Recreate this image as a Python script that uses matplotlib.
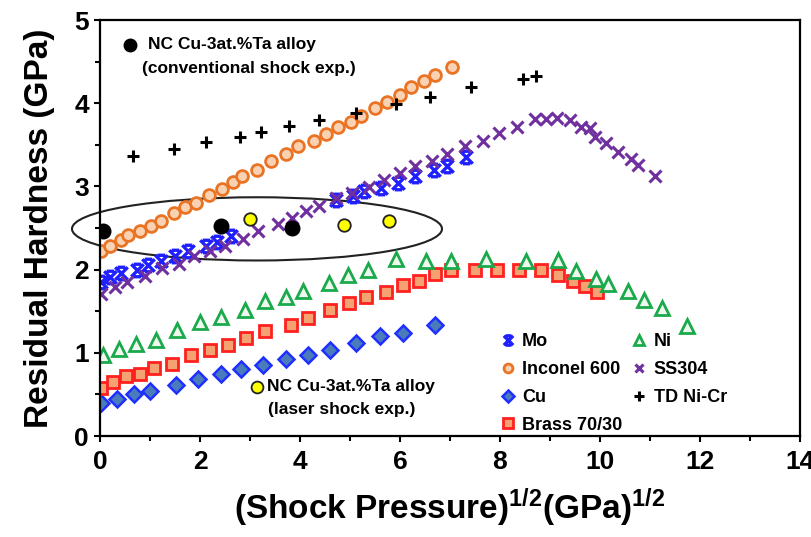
import numpy as np
import matplotlib
matplotlib.use('Agg')
import matplotlib.pyplot as plt
from matplotlib.path import Path
from matplotlib.patches import Ellipse

# ------------------------------------------------------------------------------
# data : x = (shock pressure)^1/2, y = residual hardness (GPa)

mo_x = [0.03, 0.2, 0.42, 0.74, 0.97, 1.22, 1.5, 1.77, 2.12, 2.35, 2.62,
        4.72, 5.07, 5.29, 5.62, 5.97, 6.3, 6.69, 6.95, 7.32]
mo_y = [1.85, 1.91, 1.96, 2.0, 2.05, 2.1, 2.16, 2.23, 2.28, 2.33, 2.4,
        2.84, 2.88, 2.94, 2.98, 3.04, 3.12, 3.2, 3.25, 3.35]

inc_x = [0.03, 0.2, 0.43, 0.57, 0.8, 1.02, 1.23, 1.49, 1.7, 1.92, 2.18, 2.45,
         2.67, 2.85, 3.15, 3.42, 3.73, 3.96, 4.29, 4.53, 4.77, 5.03, 5.22,
         5.5, 5.75, 6.0, 6.23, 6.49, 6.71, 7.05]
inc_y = [2.22, 2.28, 2.36, 2.42, 2.47, 2.53, 2.59, 2.68, 2.75, 2.8, 2.9, 2.97,
         3.05, 3.13, 3.2, 3.3, 3.39, 3.48, 3.55, 3.63, 3.71, 3.78, 3.85,
         3.94, 4.02, 4.1, 4.19, 4.27, 4.34, 4.44]

cu_x = [0.02, 0.35, 0.68, 1.01, 1.52, 1.97, 2.43, 2.83, 3.27, 3.72, 4.17,
        4.6, 5.12, 5.6, 6.07, 6.71]
cu_y = [0.40, 0.44, 0.50, 0.54, 0.61, 0.69, 0.74, 0.80, 0.85, 0.93, 0.98,
        1.04, 1.12, 1.20, 1.24, 1.34]

brass_x = [0.03, 0.27, 0.53, 0.81, 1.09, 1.45, 1.83, 2.2, 2.57, 2.93, 3.31,
           3.82, 4.17, 4.6, 4.99, 5.33, 5.73, 6.07, 6.39, 6.7, 7.03, 7.51,
           7.95, 8.39, 8.83, 9.17, 9.47, 9.71, 9.95]
brass_y = [0.58, 0.65, 0.72, 0.75, 0.82, 0.87, 0.98, 1.03, 1.09, 1.18, 1.26,
           1.33, 1.42, 1.52, 1.6, 1.67, 1.73, 1.81, 1.86, 1.95, 2.0, 2.0,
           2.0, 2.0, 2.0, 1.94, 1.86, 1.8, 1.73]

ni_x = [0.07, 0.39, 0.72, 1.13, 1.55, 2.0, 2.43, 2.9, 3.31, 3.72, 4.07, 4.59,
        4.97, 5.37, 5.93, 6.53, 7.03, 7.73, 8.53, 9.17, 9.53, 9.93, 10.17,
        10.57, 10.88, 11.25, 11.75]
ni_y = [0.98, 1.05, 1.11, 1.16, 1.27, 1.37, 1.43, 1.52, 1.62, 1.67, 1.74,
        1.84, 1.93, 2.0, 2.13, 2.1, 2.1, 2.13, 2.1, 2.11, 1.98, 1.89, 1.83,
        1.74, 1.64, 1.54, 1.32]

ss_x = [0.02, 0.3, 0.55, 0.9, 1.25, 1.58, 1.88, 2.2, 2.51, 2.87, 3.17, 3.56,
        3.84, 4.13, 4.39, 4.73, 5.04, 5.38, 5.68, 6.0, 6.31, 6.65, 6.95,
        7.31, 7.67, 7.99, 8.35, 8.7, 8.93, 9.15, 9.41, 9.63, 9.8, 9.91,
        10.12, 10.37, 10.62, 10.77, 11.1]
ss_y = [1.71, 1.79, 1.85, 1.92, 2.02, 2.07, 2.16, 2.23, 2.28, 2.37, 2.46,
        2.55, 2.62, 2.7, 2.76, 2.86, 2.92, 2.99, 3.08, 3.16, 3.24, 3.3,
        3.39, 3.48, 3.55, 3.64, 3.72, 3.81, 3.81, 3.82, 3.8, 3.72, 3.7, 3.6,
        3.52, 3.41, 3.33, 3.26, 3.12]

td_x = [0.67, 1.48, 2.13, 2.81, 3.23, 3.79, 4.39, 5.13, 5.93, 6.61, 7.43,
        8.47, 8.72]
td_y = [3.37, 3.45, 3.53, 3.6, 3.66, 3.73, 3.8, 3.88, 3.99, 4.07, 4.19,
        4.29, 4.33]

conv_x = [0.07, 2.43, 3.85]
conv_y = [2.46, 2.52, 2.50]

laser_x = [3.0, 4.89, 5.79]
laser_y = [2.61, 2.54, 2.59]

# ellipse round the Cu-Ta points
ell_center = (3.14, 2.49)
ell_width  = 7.4
ell_height = 0.76

# ------------------------------------------------------------------------------
# style

plt.rcParams['font.family'] = ['Liberation Sans', 'DejaVu Sans']
plt.rcParams['font.weight'] = 'bold'
plt.rcParams['axes.labelweight'] = 'bold'
plt.rcParams['mathtext.fontset'] = 'custom'
plt.rcParams['mathtext.rm'] = 'Liberation Sans:bold'
plt.rcParams['mathtext.bf'] = 'Liberation Sans:bold'
plt.rcParams['mathtext.default'] = 'bf'

# marker for Mo : an x closed by two short bars
mo_marker = Path([(-1, -1), (1, 1), (-1, 1), (1, -1),
                  (-0.6, 1), (0.6, 1), (-0.6, -1), (0.6, -1)],
                 [Path.MOVETO, Path.LINETO, Path.MOVETO, Path.LINETO,
                  Path.MOVETO, Path.LINETO, Path.MOVETO, Path.LINETO])

# ------------------------------------------------------------------------------
# drawing

fig = plt.figure(figsize=(8.11, 5.37), dpi=100)
ax = fig.add_axes([0.1233, 0.188, 0.8631, 0.7747])

ax.add_patch(Ellipse(ell_center, ell_width, ell_height, fill=False,
                     ec='#222222', lw=1.5, clip_on=False, zorder=1))

h_mo, = ax.plot(mo_x, mo_y, ls='none', marker=mo_marker, ms=9, mew=2.4,
                mec='#1f1fff', mfc='none', label='Mo')
h_inc, = ax.plot(inc_x, inc_y, ls='none', marker='o', ms=8.5, mew=2,
                 mec='#ea7424', mfc='#f9d2b4', label='Inconel 600')
h_cu, = ax.plot(cu_x, cu_y, ls='none', marker='D', ms=8.5, mew=1.8,
                mec='#1f2fff', mfc='#4a7cbc', label='Cu')
h_br, = ax.plot(brass_x, brass_y, ls='none', marker='s', ms=9, mew=2,
                mec='#ff2020', mfc='#f5a272', label='Brass 70/30')
h_ni, = ax.plot(ni_x, ni_y, ls='none', marker='^', ms=9.5, mew=2,
                mec='#1aaa4c', mfc='#eef8ee', label='Ni')
h_ss, = ax.plot(ss_x, ss_y, ls='none', marker='x', ms=8, mew=2.2,
                mec='#7030a0', label='SS304')
h_td, = ax.plot(td_x, td_y, ls='none', marker='+', ms=9, mew=2.2,
                mec='black', label='TD Ni-Cr')

ax.plot(conv_x, conv_y, ls='none', marker='o', ms=10.5, mfc='black',
        mec='black', zorder=3)
ax.plot(laser_x, laser_y, ls='none', marker='o', ms=9, mfc='#ffff00',
        mec='#222222', mew=1.3, zorder=3)

# ------------------------------------------------------------------------------
# annotations

ax.plot([0.043], [0.94], transform=ax.transAxes, ls='none', marker='o',
        ms=9, mfc='black', mec='black', clip_on=False)
ax.text(0.069, 0.94, 'NC Cu-3at.%Ta alloy', transform=ax.transAxes,
        fontsize=12.5, va='center', ha='left')
ax.text(0.060, 0.884, '(conventional shock exp.)', transform=ax.transAxes,
        fontsize=12.5, va='center', ha='left')

ax.plot([0.224], [0.1185], transform=ax.transAxes, ls='none', marker='o',
        ms=8.5, mfc='#ffff00', mec='#222222', mew=1.3, clip_on=False)
ax.text(0.239, 0.1185, 'NC Cu-3at.%Ta alloy', transform=ax.transAxes,
        fontsize=12.5, va='center', ha='left')
ax.text(0.240, 0.064, '(laser shock exp.)', transform=ax.transAxes,
        fontsize=12.5, va='center', ha='left')

leg = ax.legend(handles=[h_mo, h_inc, h_cu, h_br, h_ni, h_ss, h_td],
                ncol=2, loc='upper left', bbox_to_anchor=(0.572, 0.247),
                frameon=False, fontsize=13, handlelength=0.8,
                handletextpad=0.4, columnspacing=0.55, labelspacing=0.6,
                borderpad=0, borderaxespad=0, markerscale=0.75)

# ------------------------------------------------------------------------------
# axes

ax.set_xlim(0, 14)
ax.set_ylim(0, 5)
ax.set_xticks(np.arange(0, 15, 2))
ax.set_xticks(np.arange(1, 14, 2), minor=True)
ax.set_yticks(np.arange(0, 6, 1))
ax.set_yticks(np.arange(0.5, 5, 1), minor=True)
ax.tick_params(which='major', direction='out', length=4, width=1.5,
               labelsize=19, pad=4)
ax.tick_params(axis='x', which='major', pad=6)
ax.tick_params(which='minor', direction='out', length=3.5, width=1.5)
for sp in ax.spines.values():
    sp.set_linewidth(1.6)

ax.set_xlabel(r'(Shock Pressure)$^{1/2}$(GPa)$^{1/2}$', fontsize=24,
              labelpad=9)
ax.set_ylabel('Residual Hardness (GPa)', fontsize=24, labelpad=14)

fig.savefig('out.png', dpi=100)
